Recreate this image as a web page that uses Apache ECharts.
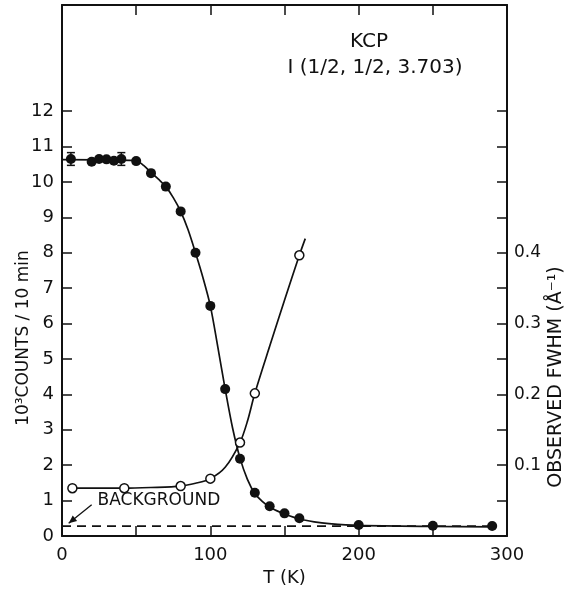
<!DOCTYPE html>
<html>
<head>
<meta charset="utf-8">
<script src="https://cdn.jsdelivr.net/npm/echarts@6/dist/echarts.min.js"></script>
<style>
    html, body { margin: 0; background: #fff; }
    #main { width: 566px; height: 592px; }
</style>
</head>
<body>
<div id="main"></div>
<script>
// 计数 (实心点)
const countT = [6, 20, 25, 30, 35, 40, 50, 60, 70, 80, 90, 100, 110, 120, 130, 140, 150, 160, 200, 250, 290]
const counts = [10.65, 10.57, 10.65, 10.64, 10.6, 10.65, 10.59, 10.25, 9.87, 9.17, 8.0, 6.5, 4.15, 2.18, 1.22, 0.84, 0.64, 0.5, 0.31, 0.29, 0.28]
// 误差棒
const errT = [6, 40]
const errVal = [10.65, 10.65]
const errSize = [0.18, 0.18]
// 计数拟合曲线
const fitT = [0, 50, 55, 60, 65, 70, 75, 80, 85, 90, 95, 100, 105, 110, 115, 120, 125, 130, 135, 140, 145, 150, 160, 170, 180, 200, 250, 290]
const fitCounts = [10.63, 10.6, 10.47, 10.27, 10.08, 9.87, 9.56, 9.17, 8.65, 8.0, 7.3, 6.5, 5.35, 4.15, 3.05, 2.2, 1.6, 1.2, 0.98, 0.82, 0.71, 0.62, 0.48, 0.4, 0.35, 0.3, 0.27, 0.26]
// FWHM (空心点)
const fwhmT = [7, 42, 80, 100, 120, 130, 160]
const fwhm = [0.0675, 0.0675, 0.0705, 0.081, 0.132, 0.2015, 0.3965]
const fwhmFitT = [7, 42, 60, 80, 90, 100, 110, 120, 125, 130, 140, 150, 160, 164]
const fwhmFit = [0.0675, 0.0675, 0.0685, 0.0705, 0.0745, 0.081, 0.097, 0.132, 0.162, 0.2015, 0.268, 0.333, 0.3965, 0.42]
// 背景
const bgT = [0, 290]
const bgVal = [0.28, 0.28]
// 刻度
const xLabels = [0, 100, 200, 300]
const xTicks = [50, 100, 150, 200, 250]
const yLabels = [0, 1, 2, 3, 4, 5, 6, 7, 8, 9, 10, 11, 12]
const yTicks = [1, 2, 3, 4, 5, 6, 7, 8, 9, 10, 11, 12]
const rLabels = [0.1, 0.2, 0.3, 0.4]
const rTicks = [0.05, 0.1, 0.15, 0.2, 0.25, 0.3, 0.35, 0.4, 0.45, 0.5, 0.55, 0.6]

const font = 'DejaVu Sans'
const ink = '#111'
const zip = (a, b) => a.map((v, i) => [v, b[i]])

const chart = echarts.init(document.getElementById('main'))

const axisLine = { onZero: false, lineStyle: { color: ink, width: 2 } }
const tick = (vals) => ({ inside: true, length: 10, customValues: vals, lineStyle: { color: ink, width: 1.5 } })
const label = (vals, fmt, margin, size) => ({ customValues: vals, color: ink, fontFamily: font, fontSize: size || 18, margin: margin, formatter: fmt })

const option = {
    animation: false,
    backgroundColor: '#fff',
    grid: { left: 62, right: 59, top: 5, bottom: 42 },
    xAxis: [
        {
            type: 'value', min: 0, max: 300, interval: 50, position: 'bottom',
            axisLine: axisLine, axisTick: tick(xTicks), axisLabel: label(xLabels, null, 10),
            splitLine: { show: false },
            name: 'T (K)', nameLocation: 'middle', nameGap: 33,
            nameTextStyle: { color: ink, fontFamily: font, fontSize: 18 }
        },
        {
            type: 'value', min: 0, max: 300, interval: 50, position: 'top',
            axisLine: axisLine, axisTick: tick(xTicks), axisLabel: { show: false },
            splitLine: { show: false }
        }
    ],
    yAxis: [
        {
            type: 'value', min: 0, max: 15, interval: 1, position: 'left',
            axisLine: axisLine, axisTick: tick(yTicks), axisLabel: label(yLabels, null, 8),
            splitLine: { show: false }
        },
        {
            type: 'value', min: 0, max: 0.75, interval: 0.05, position: 'right',
            axisLine: axisLine, axisTick: tick(rTicks),
            axisLabel: label(rLabels, v => v.toFixed(1), 7, 17),
            splitLine: { show: false }
        }
    ],
    series: [
        {
            // 背景虚线
            type: 'line', data: zip(bgT, bgVal), symbol: 'none',
            lineStyle: { color: ink, width: 1.6, type: [9, 6] }
        },
        {
            type: 'line', data: zip(fitT, fitCounts), symbol: 'none',
            smooth: 0.3,
            lineStyle: { color: ink, width: 1.7 }
        },
        {
            type: 'line', yAxisIndex: 1, data: zip(fwhmFitT, fwhmFit), symbol: 'none',
            smooth: 0.3,
            lineStyle: { color: ink, width: 1.7 }
        },
        {
            // 误差棒
            type: 'custom',
            data: errT.map((t, i) => [t, errVal[i], errSize[i]]),
            renderItem: function (params, api) {
                const x = api.value(0), y = api.value(1), e = api.value(2)
                const top = api.coord([x, y + e])
                const bot = api.coord([x, y - e])
                const w = 4
                const st = { stroke: ink, lineWidth: 1.5 }
                return {
                    type: 'group',
                    children: [
                        { type: 'line', shape: { x1: top[0], y1: top[1], x2: bot[0], y2: bot[1] }, style: st },
                        { type: 'line', shape: { x1: top[0] - w, y1: top[1], x2: top[0] + w, y2: top[1] }, style: st },
                        { type: 'line', shape: { x1: bot[0] - w, y1: bot[1], x2: bot[0] + w, y2: bot[1] }, style: st }
                    ]
                }
            },
            z: 3
        },
        {
            type: 'scatter', data: zip(countT, counts), symbol: 'circle', symbolSize: 10,
            itemStyle: { color: ink, opacity: 1 }, z: 4
        },
        {
            type: 'scatter', yAxisIndex: 1, data: zip(fwhmT, fwhm), symbol: 'circle', symbolSize: 9,
            itemStyle: { color: '#fff', borderColor: ink, borderWidth: 1.5, opacity: 1 }, z: 4
        }
    ]
}
chart.setOption(option)

// 注释文字
const p = (x, y) => chart.convertToPixel({ xAxisIndex: 0, yAxisIndex: 0 }, [x, y])
const tail = p(20, 0.88)
const head = p(4.5, 0.36)
const bgText = p(24, 1.0)
const txt = { fill: ink, fontFamily: font, fontSize: 17 }
const big = Object.assign({}, txt, { fontSize: 20 })
chart.setOption({
    graphic: [
        { type: 'text', x: 369, y: 42, style: Object.assign({ text: 'KCP', align: 'center', verticalAlign: 'middle' }, big) },
        { type: 'text', x: 375, y: 68, style: Object.assign({ text: 'I (1/2, 1/2, 3.703)', align: 'center', verticalAlign: 'middle' }, big) },
        { type: 'text', x: bgText[0], y: bgText[1], style: Object.assign({ text: 'BACKGROUND', align: 'left', verticalAlign: 'middle' }, txt) },
        { type: 'line', shape: { x1: tail[0], y1: tail[1], x2: head[0], y2: head[1] }, style: { stroke: ink, lineWidth: 1.3 } },
        {
            type: 'polygon',
            shape: (function () {
                const a = Math.atan2(head[1] - tail[1], head[0] - tail[0])
                const L = 8, W = 3.5
                const bx = head[0] - L * Math.cos(a), by = head[1] - L * Math.sin(a)
                return { points: [head, [bx + W * Math.sin(a), by - W * Math.cos(a)], [bx - W * Math.sin(a), by + W * Math.cos(a)]] }
            })(),
            style: { fill: ink }
        },
        { type: 'text', x: 24, y: 338, rotation: Math.PI / 2, style: Object.assign({ text: '10³COUNTS / 10 min', align: 'center', verticalAlign: 'middle' }, txt) },
        { type: 'text', x: 556, y: 377, rotation: Math.PI / 2, style: Object.assign({ text: 'OBSERVED FWHM (Å⁻¹)', align: 'center', verticalAlign: 'middle' }, txt, { fontSize: 19 }) }
    ]
})

window.addEventListener('resize', () => {
    chart.resize()
})
</script>
</body>
</html>
